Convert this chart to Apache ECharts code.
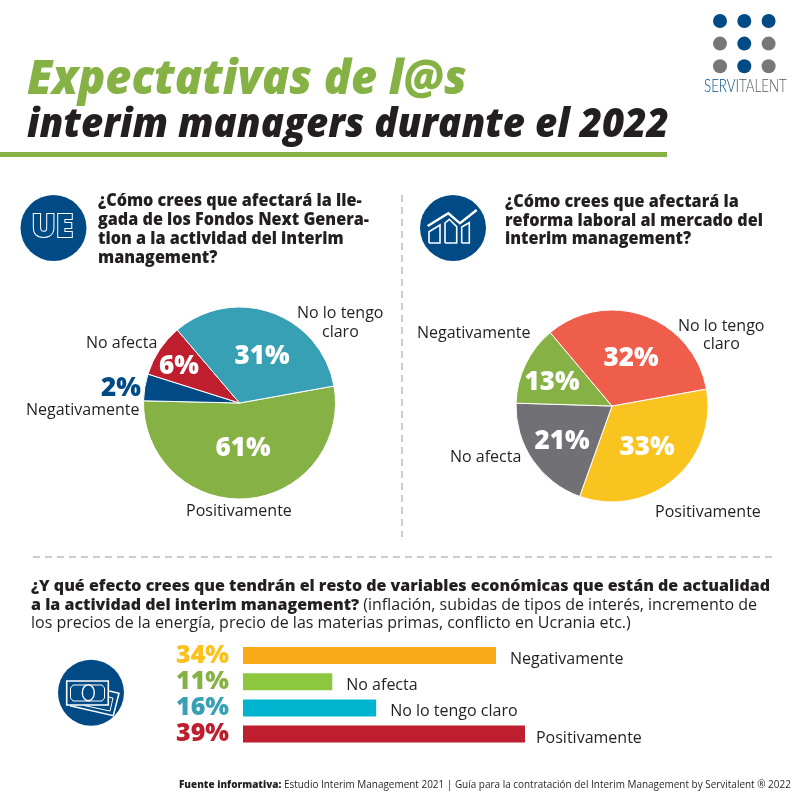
<!DOCTYPE html>
<html>
<head>
<meta charset="utf-8">
<style>html,body{margin:0;padding:0;background:#fff}#main{width:800px;height:800px}</style>
<script src="https://cdn.jsdelivr.net/npm/echarts@6/dist/echarts.min.js"></script>
</head>
<body>
<div id="main"></div>
<script>
// categories in drawing order (clockwise from the right-hand boundary)
var pie1Names = ['Positivamente', 'Negativamente', 'No afecta', 'No lo tengo claro'];
// the drawn slices do not follow the printed figures, so shares are measured from the picture
var pie1Shares = [53.2, 4.5, 8.9, 33.4];
var pie1Printed = ['61%', '2%', '6%', '31%'];

var pie2Names = ['Positivamente', 'No afecta', 'Negativamente', 'No lo tengo claro'];
var pie2Shares = [33.3, 20, 13.4, 33.3];
var pie2Printed = ['33%', '21%', '13%', '32%'];

var barNames = ['Negativamente', 'No afecta', 'No lo tengo claro', 'Positivamente'];
var barLengths = [34, 12, 17.9, 37.9];   // drawn length, same reason as above
var barPrinted = ['34%', '11%', '16%', '39%'];

var pie1Colors = ['#86b145', '#004a86', '#be1e2d', '#38a0b5'];
var pie2Colors = ['#f9c41f', '#717074', '#86b145', '#ef5d4b'];
var barColors = ['#f9ab17', '#8dc63f', '#00b3cf', '#be1e2d'];
var barTextColors = ['#fbc11c', '#86b145', '#38a0b5', '#be1e2d'];
var barLabelGaps = [14, 14, 14, 11];

var BLUE = '#004a86', GREEN = '#86b145', INK = '#231f20', FONT = '"Open Sans"';

var myChart = echarts.init(document.getElementById('main'), null, { renderer: 'canvas' });

function txt(x, y, text, size, weight, color, extra) {
  var style = { text: text, font: weight + ' ' + size + 'px ' + FONT, fill: color, textAlign: 'left', textVerticalAlign: 'middle' };
  var el = { type: 'text', x: x, y: y, style: style };
  if (extra) {
    if (extra.scaleX) el.scaleX = extra.scaleX;
    if (extra.font) style.font = extra.font;
    if (extra.rich) style.rich = extra.rich;
  }
  return el;
}

function dash(x1, y1, x2, y2) {
  return { type: 'line', shape: { x1: x1, y1: y1, x2: x2, y2: y2 }, style: { stroke: '#999', lineWidth: 1, lineDash: [7, 5] } };
}

function outline(points, width) {
  return { type: 'polyline', shape: { points: points }, style: { stroke: '#fff', fill: 'none', lineWidth: width || 1.6 } };
}

function pieSeries(names, shares, printed, colors, center, startAngle, spots) {
  return {
    type: 'pie',
    center: center,
    radius: [0, 96],
    startAngle: startAngle,
    clockwise: true,
    silent: true,
    animation: false,
    itemStyle: { borderColor: '#fff', borderWidth: 1 },
    label: {
      show: true,
      position: 'inside',
      fontFamily: FONT,
      fontWeight: 800,
      fontSize: 26,
      color: '#fff',
      formatter: function (p) { return printed[p.dataIndex]; }
    },
    labelLine: { show: false },
    labelLayout: function (p) {
      var s = spots[p.dataIndex];
      return { x: s[0], y: s[1], align: 'center', verticalAlign: 'middle' };
    },
    data: names.map(function (n, i) {
      var d = { name: n, value: shares[i], itemStyle: { color: colors[i] } };
      if (printed[i] === '2%') d.label = { color: BLUE };
      return d;
    })
  };
}

// logo dots
var dotRows = [[BLUE, BLUE, BLUE], ['#77777a', BLUE, '#77777a'], ['#77777a', BLUE, '#77777a']];
var logo = [];
dotRows.forEach(function (row, r) {
  row.forEach(function (c, i) {
    logo.push({ type: 'circle', shape: { cx: 720 + i * 24.3, cy: 21 + r * 22.6, r: 7 }, style: { fill: c } });
  });
});

var graphics = logo.concat([
  txt(704, 86, '{a|SERVI}{b|TALENT}', 18, '300', BLUE, {
    scaleX: 0.74,
    font: '300 18px Lato',
    rich: {
      a: { font: '300 18px Lato', fill: BLUE },
      b: { font: '300 18px Lato', fill: '#55565a' }
    }
  }),
  txt(27, 81, 'Expectativas de l@s', 47, 'italic 800', GREEN, { scaleX: 0.96 }),
  txt(27, 126, 'interim managers durante el 2022', 40, 'italic 800', INK, { scaleX: 0.96 }),
  { type: 'rect', shape: { x: 0, y: 152, width: 667, height: 5 }, style: { fill: GREEN } },

  dash(402, 195, 402, 537),
  dash(33, 557, 775, 557),

  // icon UE
  { type: 'circle', shape: { cx: 53.5, cy: 228, r: 33 }, style: { fill: BLUE } },
  { type: 'text', x: 52.5, y: 228, style: { text: 'UE', font: '800 32px ' + FONT, fill: BLUE, stroke: '#fff', lineWidth: 2, textAlign: 'center', textVerticalAlign: 'middle' } },

  // icon chart
  { type: 'circle', shape: { cx: 453, cy: 228, r: 33 }, style: { fill: BLUE } },
  outline([[427.7, 226], [448.3, 213.3], [460, 223.3], [476.7, 210]], 2.4),
  outline([[429, 243], [429, 231.7], [440, 225], [440, 243], [429, 243]]),
  outline([[445, 243], [445, 223], [449.3, 219.3], [456.7, 226.7], [456.7, 243], [445, 243]]),
  outline([[461.7, 243], [461.7, 227], [469.3, 222.7], [469.3, 243], [461.7, 243]]),

  // icon money
  { type: 'circle', shape: { cx: 91, cy: 692.7, r: 33 }, style: { fill: BLUE } },
  outline([[109.3, 691], [119, 693.3], [113.3, 715.7], [70, 705.7]], 1.5),
  outline([[108.5, 697], [113, 698], [110, 711], [84, 705.5]], 1),
  { type: 'rect', shape: { x: 66.7, y: 681, width: 41.6, height: 24 }, style: { fill: BLUE, stroke: '#fff', lineWidth: 1.6 } },
  outline([[73, 685], [102, 685], [104.5, 688], [104.5, 698], [102, 701], [73, 701], [70.5, 698], [70.5, 688], [73, 685]], 1),
  { type: 'ellipse', shape: { cx: 88.3, cy: 692.7, rx: 6, ry: 8 }, style: { fill: BLUE, stroke: '#fff', lineWidth: 1.4 } },

  // questions
  txt(98, 201, '¿Cómo crees que afectará la lle-', 17, '800', INK, { scaleX: 0.95 }),
  txt(98, 220, 'gada de los Fondos Next Genera-', 17, '800', INK, { scaleX: 0.95 }),
  txt(98, 239, 'tion a la actividad del interim', 17, '800', INK, { scaleX: 0.95 }),
  txt(98, 258, 'management?', 17, '800', INK, { scaleX: 0.95 }),
  txt(505, 202, '¿Cómo crees que afectará la', 17, '800', INK, { scaleX: 0.95 }),
  txt(505, 221, 'reforma laboral al mercado del', 17, '800', INK, { scaleX: 0.95 }),
  txt(505, 239, 'interim management?', 17, '800', INK, { scaleX: 0.95 }),

  // pie outer labels
  txt(297, 313, 'No lo tengo', 16, 'normal', INK),
  txt(322, 332, 'claro', 16, 'normal', INK),
  txt(86, 343, 'No afecta', 16, 'normal', INK),
  txt(26, 410, 'Negativamente', 16, 'normal', INK),
  txt(186, 511, 'Positivamente', 16, 'normal', INK),
  txt(678, 326, 'No lo tengo', 16, 'normal', INK),
  txt(703, 344, 'claro', 16, 'normal', INK),
  txt(417, 333, 'Negativamente', 16, 'normal', INK),
  txt(450, 457, 'No afecta', 16, 'normal', INK),
  txt(655, 512, 'Positivamente', 16, 'normal', INK),

  // bottom question
  txt(31, 586, '¿Y qué efecto crees que tendrán el resto de variables económicas que están de actualidad', 16, '800', INK),
  txt(31, 605, '{b|a la actividad del interim management?} {r|(inflación, subidas de tipos de interés, incremento de}', 16, 'normal', INK, {
    rich: {
      b: { font: '800 16px ' + FONT, fill: INK },
      r: { font: 'normal 16px ' + FONT, fill: INK }
    }
  }),
  txt(31, 623, 'los precios de la energía, precio de las materias primas, conflicto en Ucrania etc.)', 16, 'normal', INK),

  // source
  txt(179, 785, '{b|Fuente informativa:} {r|Estudio Interim Management 2021 | Guía para la contratación del Interim Management by Servitalent ® 2022}', 10, 'normal', INK, {
    scaleX: 0.995,
    rich: {
      b: { font: '800 10px ' + FONT, fill: INK },
      r: { font: 'normal 10px ' + FONT, fill: INK }
    }
  })
]);

myChart.setOption({
  animation: false,
  backgroundColor: '#fff',
  graphic: { elements: graphics },
  grid: { left: 243, top: 642.4, width: 350, height: 104.8, containLabel: false },
  xAxis: { type: 'value', min: 0, max: 47.04, show: false },
  yAxis: {
    type: 'category',
    inverse: true,
    data: barPrinted,
    axisLine: { show: false },
    axisTick: { show: false },
    axisLabel: {
      interval: 0,
      margin: 14,
      fontFamily: FONT,
      fontWeight: 800,
      fontSize: 25,
      color: function (v) { return barTextColors[barPrinted.indexOf(v)]; }
    }
  },
  series: [
    pieSeries(pie1Names, pie1Shares, pie1Printed, pie1Colors, [239.5, 403], 10.2,
      [[243, 449], [121, 389], [179, 367], [262, 357]]),
    pieSeries(pie2Names, pie2Shares, pie2Printed, pie2Colors, [612, 406], 10.2,
      [[647, 448], [562, 442], [552, 383], [631, 359]]),
    {
      type: 'bar',
      barWidth: 17,
      silent: true,
      data: barLengths.map(function (v, i) {
        return { value: v, itemStyle: { color: barColors[i] }, label: { distance: barLabelGaps[i] } };
      }),
      label: {
        show: true,
        position: 'right',
        offset: [0, 4],
        fontFamily: FONT,
        fontSize: 16,
        color: INK,
        formatter: function (p) { return barNames[p.dataIndex]; }
      }
    }
  ]
});
</script>
</body>
</html>
